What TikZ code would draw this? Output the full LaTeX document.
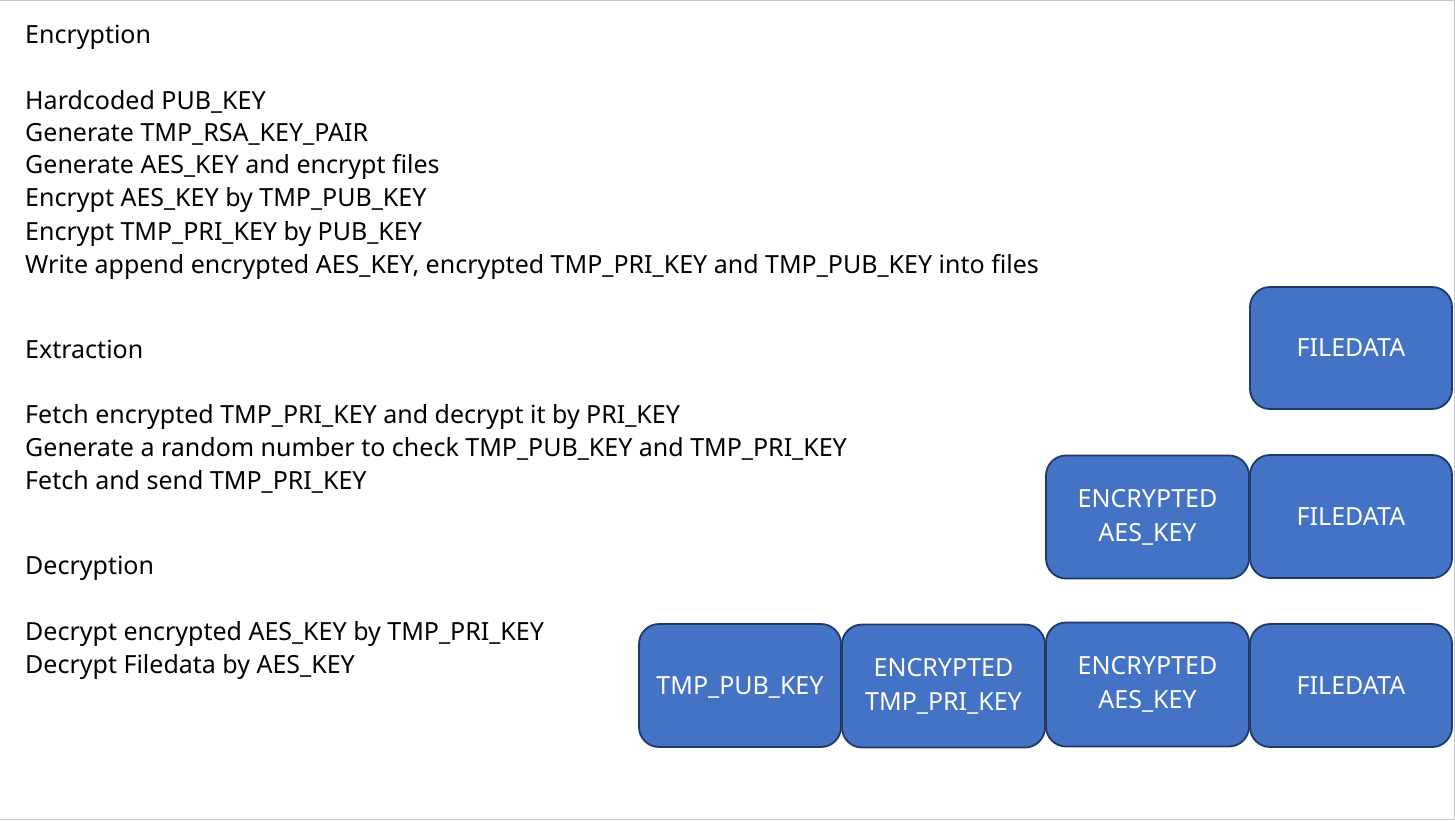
\documentclass[tikz,border=0pt]{standalone}
\usepackage{fontspec}
\setmainfont{Noto Sans}
\definecolor{boxfill}{HTML}{4472C4}
\definecolor{boxline}{HTML}{1F3A68}
\definecolor{frame}{HTML}{C8C8C8}
\begin{document}
\begin{tikzpicture}[x=1pt,y=-1pt,
  txt/.style={anchor=west,inner sep=0pt,font=\fontsize{25}{29}\selectfont,text height=18pt,text depth=6pt},
  blk/.style={draw=boxline,line width=1.8pt,fill=boxfill,rounded corners=20pt,inner sep=0pt,
    text=white,align=center,font=\fontsize{25}{34}\selectfont}]
\useasboundingbox (0,0) rectangle (1455,821);
\fill[white] (0,0) rectangle (1455,821);
\draw[frame,line width=1.5pt] (0,0.75) -- (1454.25,0.75) -- (1454.25,819.5) -- (0,819.5);
% text
\node[txt] (t1) at (25,38) {Encryption};
\node[txt] (t2) at (25,104) {Hardcoded PUB\_KEY};
\node[txt] (t3) at (25,136) {Generate TMP\_RSA\_KEY\_PAIR};
\node[txt] (t4) at (25,168) {Generate AES\_KEY and encrypt files};
\node[txt] (t5) at (25,201) {Encrypt AES\_KEY by TMP\_PUB\_KEY};
\node[txt] (t6) at (25,234) {Encrypt TMP\_PRI\_KEY by PUB\_KEY};
\node[txt] (t7) at (25,267) {Write append encrypted AES\_KEY, encrypted TMP\_PRI\_KEY and TMP\_PUB\_KEY into files};
\node[txt] (t8) at (25,352) {Extraction};
\node[txt] (t9) at (25,417) {Fetch encrypted TMP\_PRI\_KEY and decrypt it by PRI\_KEY};
\node[txt] (t10) at (25,450) {Generate a random number to check TMP\_PUB\_KEY and TMP\_PRI\_KEY};
\node[txt] (t11) at (25,483) {Fetch and send TMP\_PRI\_KEY};
\node[txt] (t12) at (25,568) {Decryption};
\node[txt] (t13) at (25,634) {Decrypt encrypted AES\_KEY by TMP\_PRI\_KEY};
\node[txt] (t14) at (25,667) {Decrypt Filedata by AES\_KEY};
% boxes
\node[blk,minimum width=202pt,minimum height=122pt,text depth=0pt] (f1) at (1351,348) {FILEDATA};
\node[blk,minimum width=203pt,minimum height=123pt] (a2) at (1147.5,517) {ENCRYPTED\\AES\_KEY};
\node[blk,minimum width=202pt,minimum height=123pt,text depth=0pt] (f2) at (1351,516.5) {FILEDATA};
\node[blk,minimum width=202pt,minimum height=123pt,text depth=0pt] (p3) at (740,685.5) {TMP\_PUB\_KEY};
\node[blk,minimum width=203pt,minimum height=123pt] (k3) at (943.5,686) {ENCRYPTED\\TMP\_PRI\_KEY};
\node[blk,minimum width=203pt,minimum height=124pt] (a3) at (1147.5,684.5) {ENCRYPTED\\AES\_KEY};
\node[blk,minimum width=202pt,minimum height=123pt,text depth=0pt] (f3) at (1351,685.5) {FILEDATA};
\end{tikzpicture}
\end{document}
